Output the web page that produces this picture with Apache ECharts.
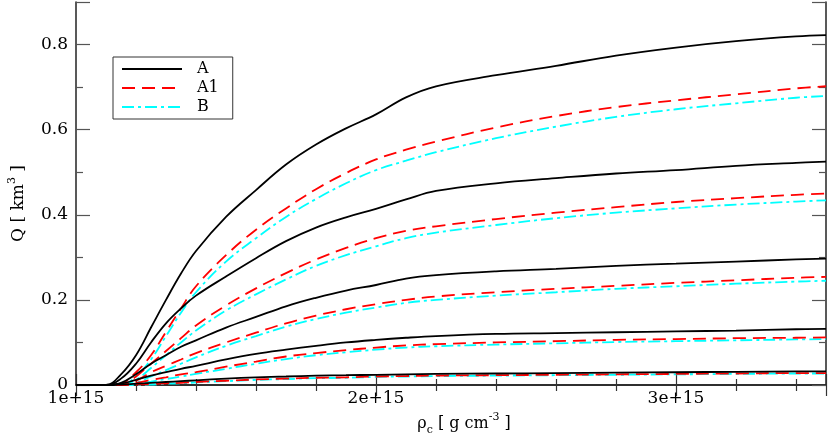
<!DOCTYPE html>
<html>
<head>
<meta charset="utf-8">
<script src="https://cdn.jsdelivr.net/npm/echarts@6/dist/echarts.min.js"></script>
<style>
  html, body { margin: 0; padding: 0; background: #fff; }
  #div1 { width: 830px; height: 436px; }
</style>
</head>
<body>
<div id="div1"></div>
<script>
// central density in units of 1e15 g cm^-3
var rho = [1.0, 1.1, 1.15, 1.2, 1.25, 1.3, 1.35, 1.4, 1.5, 1.6, 1.7, 1.8, 1.9, 2.0, 2.1, 2.2, 2.4, 2.6, 2.8, 3.0, 3.2, 3.4, 3.5];

// quadrupole moment Q [km^3], five curves per model, from low to high spin
var qA = [
    [0, 0, 0.001, 0.003, 0.005, 0.007, 0.009, 0.011, 0.015, 0.018, 0.020, 0.022, 0.023, 0.024, 0.025, 0.026, 0.027, 0.028, 0.029, 0.030, 0.031, 0.032, 0.032],
    [0, 0, 0.003, 0.012, 0.022, 0.030, 0.038, 0.045, 0.060, 0.073, 0.083, 0.092, 0.100, 0.106, 0.111, 0.115, 0.120, 0.122, 0.124, 0.126, 0.128, 0.131, 0.132],
    [0, 0, 0.005, 0.025, 0.050, 0.070, 0.090, 0.105, 0.135, 0.160, 0.185, 0.205, 0.222, 0.235, 0.250, 0.258, 0.267, 0.273, 0.280, 0.285, 0.290, 0.295, 0.297],
    [0, 0, 0.015, 0.050, 0.100, 0.145, 0.180, 0.210, 0.255, 0.298, 0.338, 0.370, 0.394, 0.414, 0.436, 0.456, 0.474, 0.486, 0.497, 0.505, 0.515, 0.522, 0.525],
    [0, 0, 0.025, 0.070, 0.135, 0.200, 0.262, 0.315, 0.395, 0.458, 0.518, 0.565, 0.603, 0.636, 0.676, 0.702, 0.728, 0.750, 0.774, 0.793, 0.808, 0.819, 0.822]
];
var qA1 = [
    [0, 0, 0, 0.001, 0.002, 0.004, 0.005, 0.007, 0.010, 0.013, 0.015, 0.017, 0.018, 0.020, 0.021, 0.022, 0.023, 0.024, 0.025, 0.026, 0.027, 0.028, 0.028],
    [0, 0, 0, 0.005, 0.012, 0.018, 0.025, 0.030, 0.043, 0.055, 0.067, 0.075, 0.082, 0.088, 0.093, 0.096, 0.100, 0.103, 0.106, 0.108, 0.110, 0.111, 0.112],
    [0, 0, 0, 0.010, 0.030, 0.045, 0.060, 0.075, 0.100, 0.123, 0.145, 0.163, 0.178, 0.190, 0.200, 0.208, 0.218, 0.226, 0.233, 0.240, 0.246, 0.252, 0.254],
    [0, 0, 0, 0.020, 0.050, 0.080, 0.110, 0.140, 0.187, 0.227, 0.263, 0.295, 0.322, 0.345, 0.362, 0.373, 0.390, 0.405, 0.418, 0.430, 0.439, 0.447, 0.450],
    [0, 0, 0.003, 0.030, 0.070, 0.125, 0.180, 0.232, 0.305, 0.365, 0.415, 0.460, 0.498, 0.530, 0.553, 0.572, 0.605, 0.632, 0.653, 0.669, 0.683, 0.697, 0.702]
];
var qB = [
    [0, 0, 0, 0, 0.001, 0.003, 0.004, 0.006, 0.009, 0.012, 0.014, 0.016, 0.017, 0.019, 0.020, 0.021, 0.022, 0.023, 0.024, 0.025, 0.026, 0.027, 0.027],
    [0, 0, 0, 0.003, 0.008, 0.014, 0.020, 0.026, 0.038, 0.050, 0.061, 0.070, 0.077, 0.083, 0.088, 0.091, 0.095, 0.098, 0.101, 0.103, 0.105, 0.107, 0.108],
    [0, 0, 0, 0.005, 0.020, 0.035, 0.050, 0.065, 0.092, 0.115, 0.137, 0.155, 0.170, 0.182, 0.193, 0.200, 0.210, 0.218, 0.226, 0.232, 0.238, 0.243, 0.245],
    [0, 0, 0, 0.012, 0.040, 0.070, 0.100, 0.128, 0.175, 0.213, 0.248, 0.280, 0.305, 0.326, 0.345, 0.358, 0.376, 0.392, 0.405, 0.415, 0.424, 0.431, 0.434],
    [0, 0, 0, 0.020, 0.060, 0.115, 0.170, 0.218, 0.290, 0.345, 0.395, 0.437, 0.474, 0.505, 0.527, 0.547, 0.580, 0.607, 0.630, 0.648, 0.662, 0.675, 0.679]
];

var xTicks = [1, 2, 3];
var yTicks = [0, 0.2, 0.4, 0.6, 0.8];

var font = 'DejaVu Serif';

function pairs(ys) {
    return rho.map(function (x, i) { return [x, ys[i]]; });
}

function makeSeries(name, list, color, dash) {
    return list.map(function (ys) {
        return {
            type: 'line',
            name: name,
            data: pairs(ys),
            smooth: 0.4,
            symbol: 'none',
            lineStyle: { color: color, width: 1.8, type: dash },
            itemStyle: { color: color },
            z: name === 'A' ? 3 : 2
        };
    });
}

window.onload = function () {
    var frame = { show: true, lineStyle: { color: '#222', width: 1.5 } };

    var option = {
        animation: false,
        backgroundColor: '#fff',
        grid: { left: 76, right: 4, top: 2, bottom: 51, containLabel: false, outerBoundsMode: 'none' },
        legend: {
            data: ['A', 'A1', 'B'],
            orient: 'vertical',
            left: 113,
            top: 57,
            itemWidth: 60,
            itemHeight: 14,
            itemGap: 3,
            padding: [4, 14, 4, 8],
            borderColor: '#333',
            borderWidth: 1,
            backgroundColor: '#fff',
            itemStyle: { opacity: 0 },
            textStyle: { fontFamily: font, fontSize: 16, lineHeight: 14, color: '#000', padding: [0, 0, 0, 10] }
        },
        xAxis: [{
            type: 'value',
            min: 1,
            max: 3.5,
            interval: 1,
            position: 'bottom',
            axisLine: frame,
            axisTick: { inside: true, length: 11, lineStyle: { color: '#333', width: 1.2 } },
            minorTick: { show: true, splitNumber: 5, length: 6, lineStyle: { color: '#333', width: 1.2 } },
            splitLine: { show: false },
            axisLabel: {
                margin: 5,
                fontFamily: font,
                fontSize: 17,
                color: '#000',
                showMaxLabel: false,
                formatter: function (v) {
                    return xTicks.indexOf(v) >= 0 ? v + 'e+15' : '';
                }
            },
            name: '{t|ρ}{sub|c}{t| [ g cm}{sup|-3}{t| ]}',
            nameLocation: 'middle',
            nameGap: 24,
            nameTextStyle: {
                padding: [0, 0, 0, 26],
                rich: {
                    t: { fontFamily: font, fontSize: 16, color: '#000', lineHeight: 24 },
                    sub: { fontFamily: font, fontSize: 11, color: '#000', lineHeight: 24, verticalAlign: 'bottom' },
                    sup: { fontFamily: font, fontSize: 11, color: '#000', lineHeight: 24, verticalAlign: 'top' }
                }
            }
        }, {
            type: 'value',
            min: 1,
            max: 3.5,
            interval: 1,
            position: 'top',
            axisLine: frame,
            axisTick: { inside: true, length: 11, lineStyle: { color: '#333', width: 1.2 } },
            minorTick: { show: true, splitNumber: 5, length: 6, lineStyle: { color: '#333', width: 1.2 } },
            splitLine: { show: false },
            axisLabel: { show: false }
        }],
        yAxis: [{
            type: 'value',
            min: 0,
            max: 0.9,
            interval: 0.2,
            position: 'left',
            axisLine: frame,
            axisTick: { inside: true, length: 14, lineStyle: { color: '#555', width: 1.2 } },
            minorTick: { show: true, splitNumber: 2, length: 7, lineStyle: { color: '#555', width: 1.2 } },
            splitLine: { show: false },
            axisLabel: {
                margin: 8,
                fontFamily: font,
                fontSize: 17,
                color: '#000',
                showMaxLabel: false,
                formatter: function (v) {
                    var r = Math.round(v * 10) / 10;
                    return yTicks.indexOf(r) >= 0 ? String(r) : '';
                }
            },
            name: '{t|Q [ km}{sup|3}{t| ]}',
            nameLocation: 'middle',
            nameRotate: 90,
            nameGap: 45,
            nameTextStyle: {
                padding: [0, 20, 0, 0],
                rich: {
                    t: { fontFamily: font, fontSize: 17, color: '#000', lineHeight: 24 },
                    sup: { fontFamily: font, fontSize: 11, color: '#000', lineHeight: 24, verticalAlign: 'top' }
                }
            }
        }, {
            type: 'value',
            min: 0,
            max: 0.9,
            interval: 0.2,
            position: 'right',
            axisLine: frame,
            axisTick: { inside: true, length: 14, lineStyle: { color: '#555', width: 1.2 } },
            minorTick: { show: true, splitNumber: 2, length: 7, lineStyle: { color: '#555', width: 1.2 } },
            splitLine: { show: false },
            axisLabel: { show: false }
        }],
        series: [].concat(
            makeSeries('B', qB, '#00ffff', [12, 4, 3, 4]),
            makeSeries('A1', qA1, '#ff0000', [13, 7]),
            makeSeries('A', qA, '#000000', 'solid')
        )
    };

    var charts = echarts.init(document.getElementById('div1'));
    charts.setOption(option);
};
</script>
</body>
</html>
